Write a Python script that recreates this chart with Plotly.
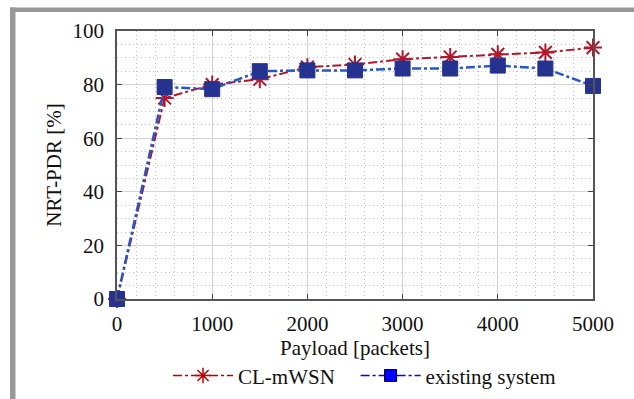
import plotly.graph_objects as go

payload = [0, 500, 1000, 1500, 2000, 2500, 3000, 3500, 4000, 4500, 5000]
cl_mwsn = [0, 75, 80, 82, 86.5, 87.5, 89.5, 90.3, 91.3, 92, 93.8]
existing = [0, 79.1, 78.3, 85, 85.3, 85.3, 86, 86, 87.1, 86, 79.5]
names = ["CL-mWSN", "existing system"]

W, H = 634, 399
L, R, T, B = 117, 593, 30.5, 299
pw, ph = R - L, B - T

red = "#b3172b"
blue_line = "#2457c8"
navy = "#26328f"

fig = go.Figure()
fig.add_trace(go.Scatter(x=payload, y=cl_mwsn, mode="lines+markers", showlegend=False,
                         line=dict(color=red, width=2, dash="dashdot"),
                         marker=dict(symbol="asterisk-open", size=15, color=red,
                                     line=dict(color=red, width=2))))
fig.add_trace(go.Scatter(x=payload, y=existing, mode="lines+markers", showlegend=False,
                         line=dict(color=blue_line, width=2.5, dash="dashdot"),
                         marker=dict(symbol="square", size=15, color=navy,
                                     line=dict(color=navy, width=1))))
# legend entries
fig.add_trace(go.Scatter(x=[None], y=[None], mode="lines+markers", name=names[0] + "   ",
                         line=dict(color="#c00000", width=1.5, dash="dashdot"),
                         marker=dict(symbol="asterisk-open", size=13, color="#c00000",
                                     line=dict(color="#c00000", width=1.5))))
fig.add_trace(go.Scatter(x=[None], y=[None], mode="lines+markers", name=names[1],
                         line=dict(color="#0000ff", width=1.5, dash="dashdot"),
                         marker=dict(symbol="square", size=12, color="#0000ff",
                                     line=dict(color="#000000", width=1))))

font = dict(family="Liberation Serif", size=21, color="#111111")

def px2x(p):
    return (p - L) / pw

def py2y(p):
    return (B - p) / ph

shapes = [
    dict(type="rect", xref="paper", yref="paper", x0=px2x(10), x1=px2x(15.5), y0=py2y(430), y1=py2y(7),
         fillcolor="#999999", line=dict(width=0), layer="above"),
    dict(type="rect", xref="paper", yref="paper", x0=px2x(10), x1=px2x(660), y0=py2y(11.5), y1=py2y(7),
         fillcolor="#999999", line=dict(width=0), layer="above"),
]

fig.update_layout(
    width=W, height=H,
    margin=dict(l=L, r=W - R, t=T, b=H - B, autoexpand=False),
    paper_bgcolor="white", plot_bgcolor="white",
    font=font,
    shapes=shapes,
    legend=dict(orientation="h", x=0.52, y=py2y(376), xanchor="center", yanchor="middle",
                font=font, bgcolor="rgba(0,0,0,0)", itemwidth=60, tracegroupgap=0),
    xaxis=dict(range=[0, 5000], tickvals=[0, 1000, 2000, 3000, 4000, 5000],
               title=dict(text="Payload [packets]", standoff=2, font=font),
               showline=True, linecolor="#555555", linewidth=1.5, mirror="ticks",
               ticks="inside", ticklen=5, tickcolor="#444444",
               showgrid=True, gridcolor="#d4d4d4", gridwidth=1,
               minor=dict(dtick=200, showgrid=True, griddash="1px,3px", gridcolor="#c0c0c0", gridwidth=1),
               zeroline=False, ticklabelstandoff=5),
    yaxis=dict(range=[0, 100], tickvals=[0, 20, 40, 60, 80, 100],
               title=dict(text="NRT-PDR [%]", standoff=5, font=font),
               showline=True, linecolor="#555555", linewidth=1.5, mirror="ticks",
               ticks="inside", ticklen=5, tickcolor="#444444",
               showgrid=True, gridcolor="#d4d4d4", gridwidth=1,
               minor=dict(dtick=5, showgrid=True, griddash="1px,3px", gridcolor="#c0c0c0", gridwidth=1),
               zeroline=False, ticklabelstandoff=7),
)
fig.update_traces(cliponaxis=False)

fig.write_html("out.html")
